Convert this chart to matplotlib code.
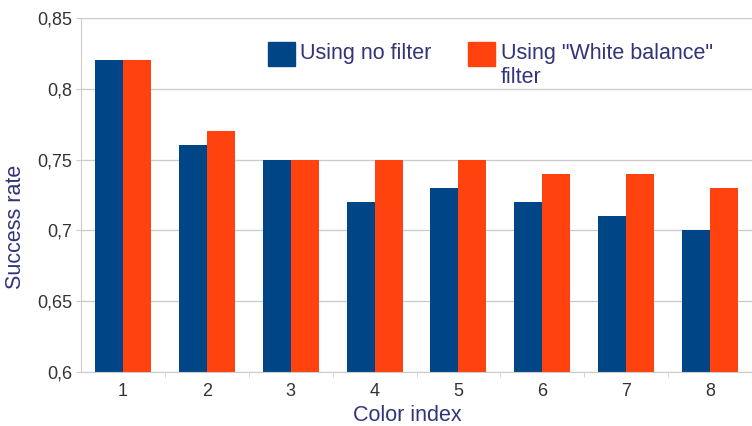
#!/usr/bin/env python3

import numpy as np
import matplotlib
matplotlib.use('Agg')
from matplotlib import pyplot as plt
from matplotlib.patches import Rectangle
from matplotlib.ticker import FuncFormatter, FixedLocator

categories = ['1', '2', '3', '4', '5', '6', '7', '8']
no_filter = [0.82, 0.76, 0.75, 0.72, 0.73, 0.72, 0.71, 0.70]
white_balance = [0.82, 0.77, 0.75, 0.75, 0.75, 0.74, 0.74, 0.73]
yticks = [0.6, 0.65, 0.7, 0.75, 0.8, 0.85]
labels = ['Using no filter', 'Using "White balance"\nfilter']

blue = '#004586'
orange = '#ff420e'
label_color = '#33337a'
tick_color = '#333333'
grid_color = '#cccccc'

plt.rcParams['font.family'] = ['Liberation Sans', 'DejaVu Sans']

fig = plt.figure(figsize=(7.52, 4.26), dpi=100)
ax = fig.add_axes([81 / 752, 1 - 372 / 426, 671 / 752, 354 / 426])

x = np.arange(len(categories))
w = 1 / 3
ax.bar(x - w / 2, no_filter, w, color=blue, zorder=2)
ax.bar(x + w / 2, white_balance, w, color=orange, zorder=2)

ax.set_xlim(-0.5, len(categories) - 0.5)
ax.set_ylim(0.6, 0.85)
ax.set_yticks(yticks)
ax.yaxis.set_major_formatter(FuncFormatter(lambda v, p: ('%g' % v).replace('.', ',')))
ax.set_xticks(x)
ax.set_xticklabels(categories)
ax.xaxis.set_minor_locator(FixedLocator(x[:-1] + 0.5))
ax.tick_params(axis='x', which='major', length=0, pad=8, labelsize=13, labelcolor=tick_color)
ax.tick_params(axis='x', which='minor', length=3.5, color=grid_color, direction='out')
ax.tick_params(axis='y', length=3.5, color=grid_color, pad=3, labelsize=13, labelcolor=tick_color)

ax.grid(axis='y', color=grid_color, linewidth=1, zorder=0)
for s in ['top', 'right']:
    ax.spines[s].set_visible(False)
for s in ['left', 'bottom']:
    ax.spines[s].set_color(grid_color)

ax.set_ylabel('Success rate', fontsize=15.5, color=label_color)
ax.yaxis.set_label_coords(-0.082, 0.41)
ax.set_xlabel('Color index', fontsize=15.5, color=label_color)
ax.xaxis.set_label_coords(0.486, -0.093)

# legend drawn by hand so the square lines up with the first text line
W, H = 752.0, 426.0
for (px, tx), col, lab in zip([(268, 300), (468, 501)], [blue, orange], labels):
    fig.patches.append(Rectangle((px / W, 1 - 66 / H), 27 / W, 24 / H,
                                 transform=fig.transFigure, color=col, zorder=5))
    fig.text(tx / W, 1 - 43 / H, lab, fontsize=15.5, color=label_color,
             va='top', ha='left', linespacing=1.2, zorder=5)

plt.savefig('out.png', dpi=100)
